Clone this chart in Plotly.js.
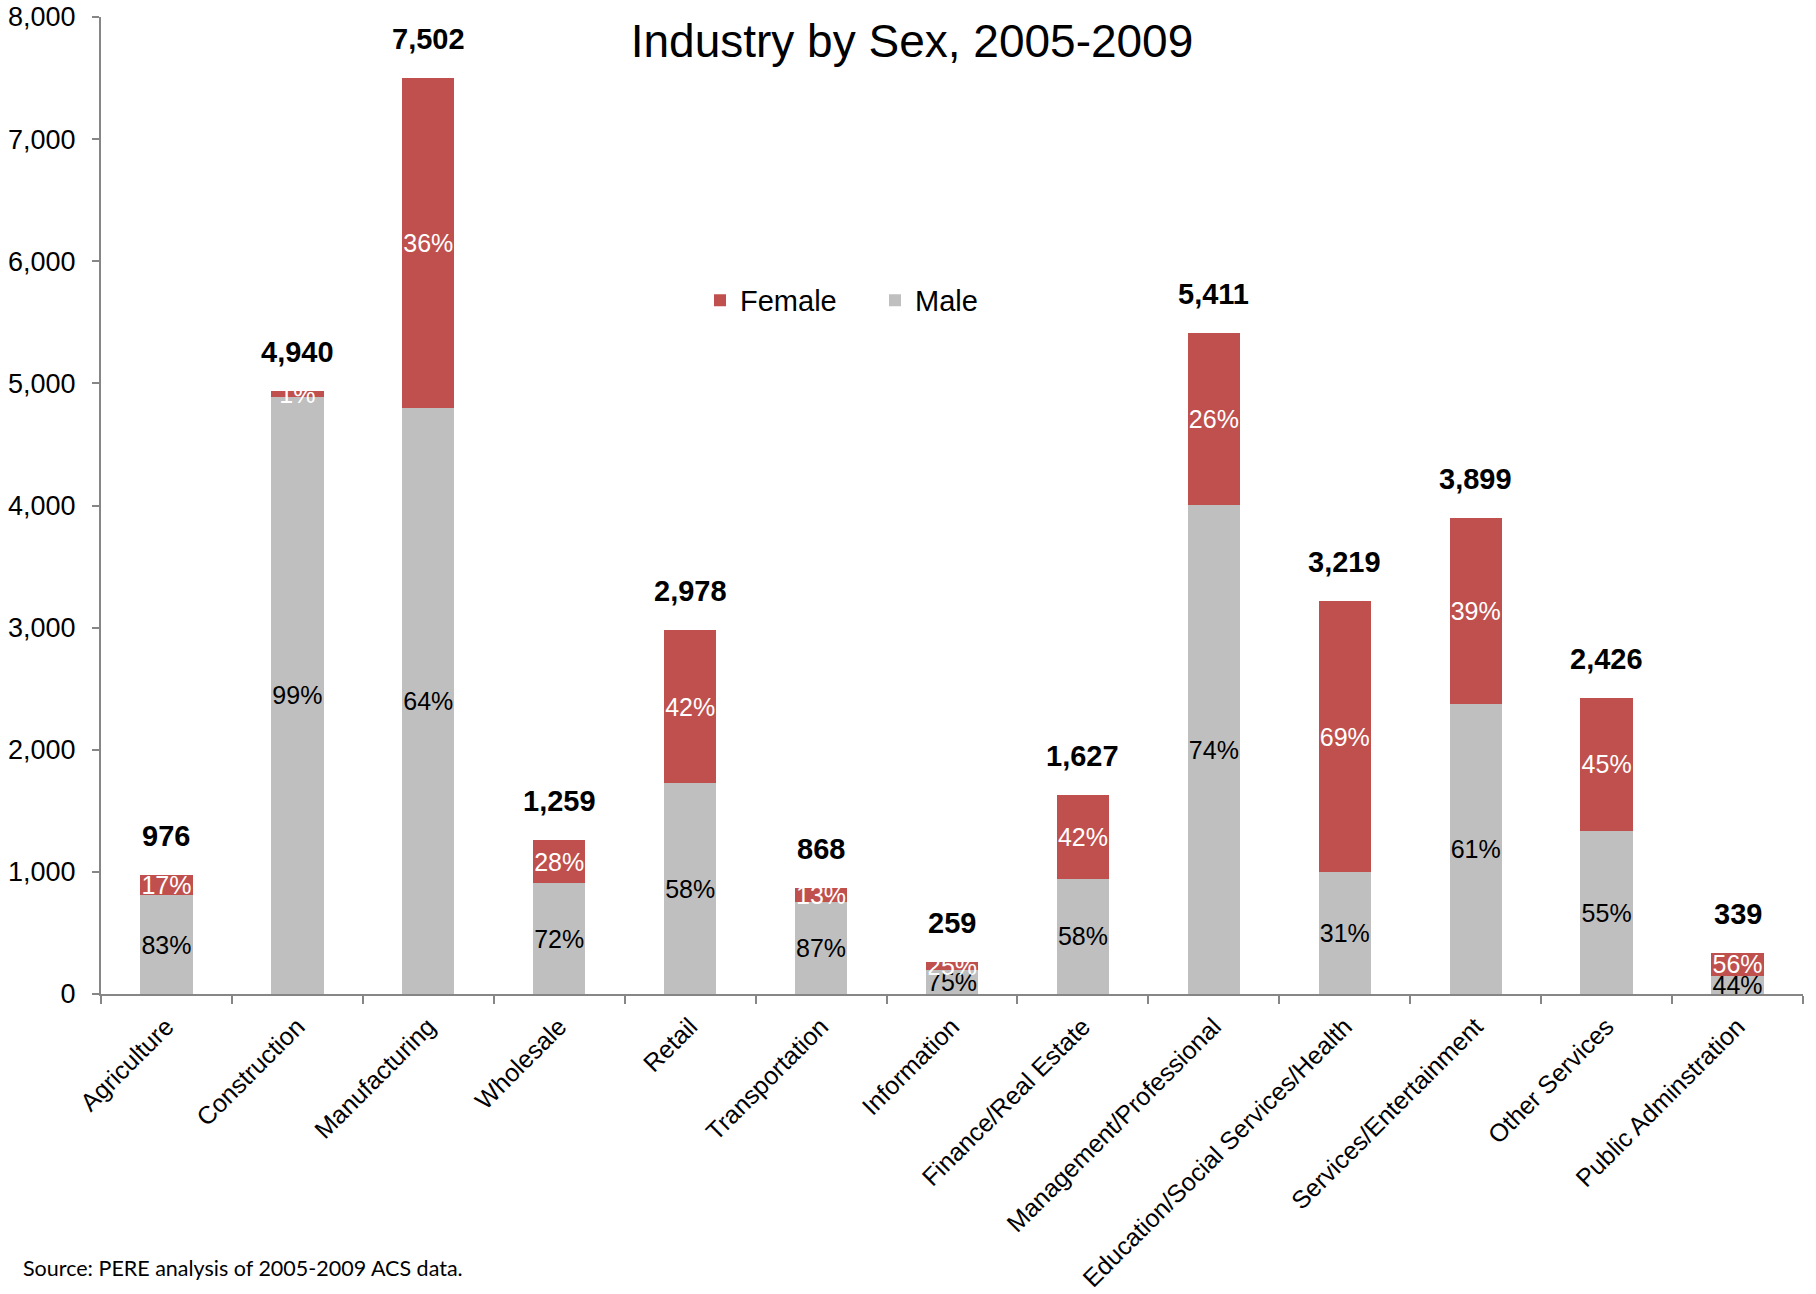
<!DOCTYPE html>
<html>
<head>
<meta charset="utf-8">
<script src="https://cdn.plot.ly/plotly-3.0.1.min.js"></script>
<style>
  html, body { margin: 0; padding: 0; background: #ffffff; }
  #chart { width: 1816px; height: 1294px; }
</style>
</head>
<body>
<div id="chart"></div>
<script>
// ---- Data ----
const industries = [
  "Agriculture", "Construction", "Manufacturing", "Wholesale", "Retail",
  "Transportation", "Information", "Finance/Real Estate", "Management/Professional",
  "Education/Social Services/Health", "Services/Entertainment", "Other Services",
  "Public Adminstration"
];
const totals       = [976, 4940, 7502, 1259, 2978, 868, 259, 1627, 5411, 3219, 3899, 2426, 339];
const maleValues   = [810, 4890, 4800, 905, 1725, 755, 194, 944, 4004, 998, 2378, 1334, 149];
const femaleValues = [166, 50, 2702, 354, 1253, 113, 65, 683, 1407, 2221, 1521, 1092, 190];
const malePctLabels   = ["83%", "99%", "64%", "72%", "58%", "87%", "75%", "58%", "74%", "31%", "61%", "55%", "44%"];
const femalePctLabels = ["17%", "1%", "36%", "28%", "42%", "13%", "25%", "42%", "26%", "69%", "39%", "45%", "56%"];
const totalLabels  = ["976", "4,940", "7,502", "1,259", "2,978", "868", "259", "1,627", "5,411", "3,219", "3,899", "2,426", "339"];
const yTickValues  = [0, 1000, 2000, 3000, 4000, 5000, 6000, 7000, 8000];
const yTickLabels  = ["0", "1,000", "2,000", "3,000", "4,000", "5,000", "6,000", "7,000", "8,000"];

const FEMALE_COLOR = "#C0504D";
const MALE_COLOR = "#BFBFBF";
const AXIS_COLOR = "#868686";
const FONT = "Arial, 'Liberation Sans', sans-serif";

const femaleTrace = {
  type: "bar",
  name: "Female",
  x: industries,
  y: femaleValues,
  text: femalePctLabels,
  textposition: "inside",
  insidetextanchor: "middle",
  textangle: 0,
  constraintext: "none",
  textfont: { family: FONT, size: 25, color: "#ffffff" },
  marker: { color: FEMALE_COLOR },
  hoverinfo: "x+y+name"
};
const maleTrace = {
  type: "bar",
  name: "Male",
  x: industries,
  y: maleValues,
  text: malePctLabels,
  textposition: "inside",
  insidetextanchor: "middle",
  textangle: 0,
  constraintext: "none",
  textfont: { family: FONT, size: 25, color: "#000000" },
  marker: { color: MALE_COLOR },
  hoverinfo: "x+y+name"
};

const totalAnnotations = industries.map((cat, i) => ({
  x: cat,
  y: totals[i],
  xref: "x",
  yref: "y",
  text: totalLabels[i],
  showarrow: false,
  xanchor: "center",
  yanchor: "bottom",
  yshift: 21,
  font: { family: FONT, size: 29, color: "#000000", weight: "bold" }
}));

const sourceNote = {
  xref: "paper", yref: "paper",
  x: -80 / 1702, y: -274 / 976.3,
  xanchor: "left", yanchor: "middle",
  text: "Source: PERE analysis of 2005-2009 ACS data.",
  showarrow: false,
  font: { family: "Lato, 'Liberation Sans', sans-serif", size: 21.5, color: "#000000" }
};

const layout = {
  width: 1816,
  height: 1294,
  paper_bgcolor: "#ffffff",
  plot_bgcolor: "#ffffff",
  margin: { l: 101, r: 13, t: 17, b: 300, pad: 0 },
  barmode: "stack",
  bargap: 0.6,
  uniformtext: { minsize: 25, mode: "show" },
  font: { family: FONT, color: "#000000" },
  title: {
    text: "Industry by Sex, 2005-2009",
    font: { family: FONT, size: 46, color: "#000000" },
    xref: "container", yref: "container",
    x: 912 / 1816, xanchor: "center",
    y: 1 - 25 / 1294, yanchor: "top"
  },
  showlegend: true,
  legend: {
    orientation: "h",
    x: (700 - 101) / 1702, xanchor: "left",
    y: (993.7 - 300.5) / 976.3, yanchor: "middle",
    font: { family: FONT, size: 29, color: "#000000" },
    bgcolor: "rgba(0,0,0,0)",
    traceorder: "reversed",
    entrywidth: 130,
    entrywidthmode: "pixels"
  },
  xaxis: {
    type: "category",
    tickangle: -45,
    tickfont: { family: FONT, size: 25, color: "#000000" },
    showline: true,
    linecolor: AXIS_COLOR,
    linewidth: 2,
    ticks: "outside",
    tickson: "boundaries",
    ticklen: 8,
    tickwidth: 2,
    tickcolor: AXIS_COLOR,
    ticklabelstandoff: 6,
    showgrid: false,
    zeroline: false,
    automargin: false
  },
  yaxis: {
    range: [0, 8000],
    tickvals: yTickValues,
    ticktext: yTickLabels,
    tickfont: { family: FONT, size: 27, color: "#000000" },
    showline: true,
    linecolor: AXIS_COLOR,
    linewidth: 2,
    ticks: "outside",
    ticklen: 7,
    tickwidth: 2,
    tickcolor: AXIS_COLOR,
    ticklabelstandoff: 11,
    showgrid: false,
    zeroline: false,
    automargin: false
  },
  annotations: totalAnnotations.concat([sourceNote])
};

Plotly.newPlot("chart", [maleTrace, femaleTrace], layout, { displayModeBar: false, staticPlot: true });
</script>
</body>
</html>
